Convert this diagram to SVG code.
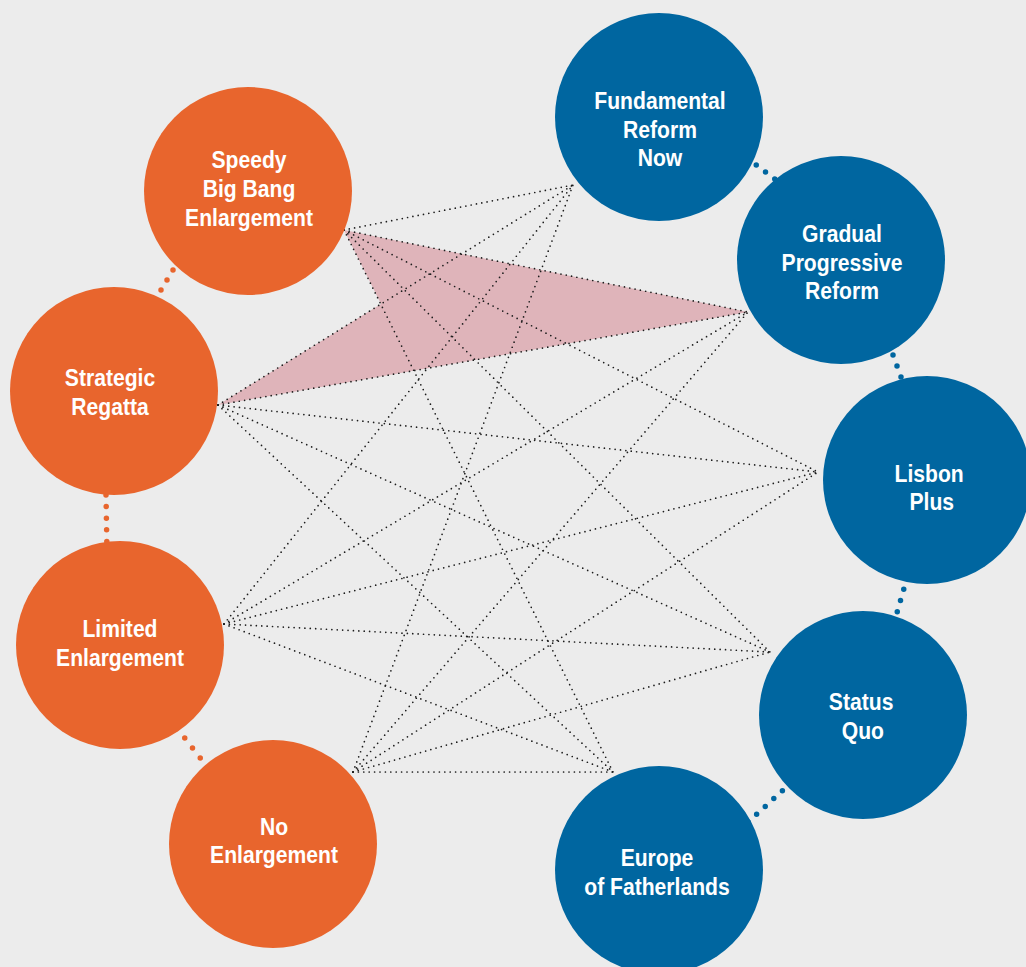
<svg xmlns="http://www.w3.org/2000/svg" width="1026" height="967" viewBox="0 0 1026 967">
<style>
.bg{fill:#ececec}
.or{fill:#e8652d}
.bl{fill:#0066a0}
.lbl{font-family:"Liberation Sans",Arial,sans-serif;font-weight:700;font-size:24px;fill:#ffffff;text-anchor:middle}
.link{stroke:#1c1c1c;stroke-width:1.7;stroke-linecap:round;stroke-dasharray:0 5.4;fill:none}
.odot{stroke:#e8652d;stroke-width:5.5;stroke-linecap:round;fill:none}
.bdot{stroke:#0066a0;stroke-width:5.5;stroke-linecap:round;fill:none}
.pink{fill:#dfb4ba}
</style>
<rect class="bg" x="0" y="0" width="1026" height="967"/>
<g id="connectors">
  <polygon class="pink" points="344,230 748,312 218,405 381,304"/>
  <g id="links">
    <line class="link" x1="344" y1="230" x2="573" y2="185"/>
    <line class="link" x1="344" y1="230" x2="748" y2="312"/>
    <line class="link" x1="344" y1="230" x2="818" y2="472"/>
    <line class="link" x1="344" y1="230" x2="770" y2="652"/>
    <line class="link" x1="344" y1="230" x2="613" y2="772"/>
    <line class="link" x1="218" y1="405" x2="573" y2="185"/>
    <line class="link" x1="218" y1="405" x2="748" y2="312"/>
    <line class="link" x1="218" y1="405" x2="818" y2="472"/>
    <line class="link" x1="218" y1="405" x2="770" y2="652"/>
    <line class="link" x1="218" y1="405" x2="613" y2="772"/>
    <line class="link" x1="224" y1="624" x2="573" y2="185"/>
    <line class="link" x1="224" y1="624" x2="748" y2="312"/>
    <line class="link" x1="224" y1="624" x2="818" y2="472"/>
    <line class="link" x1="224" y1="624" x2="770" y2="652"/>
    <line class="link" x1="224" y1="624" x2="613" y2="772"/>
    <line class="link" x1="353" y1="772" x2="573" y2="185"/>
    <line class="link" x1="353" y1="772" x2="748" y2="312"/>
    <line class="link" x1="353" y1="772" x2="818" y2="472"/>
    <line class="link" x1="353" y1="772" x2="770" y2="652"/>
    <line class="link" x1="353" y1="772" x2="613" y2="772"/>
  </g>
  <g id="adjacent">
    <line class="odot" x1="179" y1="260" x2="155" y2="300" stroke-dasharray="0 11.66"/>
    <line class="odot" x1="106" y1="495" x2="107" y2="553" stroke-dasharray="0 11.6"/>
    <line class="odot" x1="177" y1="728" x2="208" y2="768" stroke-dasharray="0 12.65"/>
    <line class="bdot" x1="747" y1="158" x2="784" y2="186" stroke-dasharray="0 11.6"/>
    <line class="bdot" x1="889" y1="344" x2="905" y2="388" stroke-dasharray="0 11.7"/>
    <line class="bdot" x1="907" y1="578" x2="894" y2="623" stroke-dasharray="0 11.7"/>
    <line class="bdot" x1="791" y1="783" x2="748" y2="822" stroke-dasharray="0 11.6"/>
  </g>
</g>
<g id="speedy">
  <circle class="or" cx="248" cy="191" r="104"/>
  <g transform="translate(29.88,0) scale(0.88,1)">
    <text class="lbl" x="249" y="168">Speedy</text>
    <text class="lbl" x="249" y="197">Big Bang</text>
    <text class="lbl" x="249" y="226">Enlargement</text>
  </g>
</g>
<g id="strategic">
  <circle class="or" cx="114" cy="391" r="104"/>
  <g transform="translate(13.2,0) scale(0.88,1)">
    <text class="lbl" x="110" y="386">Strategic</text>
    <text class="lbl" x="110" y="415">Regatta</text>
  </g>
</g>
<g id="limited">
  <circle class="or" cx="120" cy="645" r="104"/>
  <g transform="translate(14.4,0) scale(0.88,1)">
    <text class="lbl" x="120" y="637">Limited</text>
    <text class="lbl" x="120" y="666">Enlargement</text>
  </g>
</g>
<g id="no">
  <circle class="or" cx="273" cy="844" r="104"/>
  <g transform="translate(32.88,0) scale(0.88,1)">
    <text class="lbl" x="274" y="835">No</text>
    <text class="lbl" x="274" y="863">Enlargement</text>
  </g>
</g>
<g id="fundamental">
  <circle class="bl" cx="659" cy="117" r="104"/>
  <g transform="translate(79.2,0) scale(0.88,1)">
    <text class="lbl" x="660" y="109">Fundamental</text>
    <text class="lbl" x="660" y="138">Reform</text>
    <text class="lbl" x="660" y="166">Now</text>
  </g>
</g>
<g id="gradual">
  <circle class="bl" cx="841" cy="260" r="104"/>
  <g transform="translate(101.04,0) scale(0.88,1)">
    <text class="lbl" x="842" y="242">Gradual</text>
    <text class="lbl" x="842" y="271">Progressive</text>
    <text class="lbl" x="842" y="299">Reform</text>
  </g>
</g>
<g id="lisbon">
  <circle class="bl" cx="927" cy="480" r="104"/>
  <g transform="translate(111.6,0) scale(0.88,1)">
    <text class="lbl" x="929" y="482">Lisbon</text>
    <text class="lbl" x="932" y="510">Plus</text>
  </g>
</g>
<g id="statusquo">
  <circle class="bl" cx="863" cy="715" r="104"/>
  <g transform="translate(103.44,0) scale(0.88,1)">
    <text class="lbl" x="861" y="710">Status</text>
    <text class="lbl" x="863" y="739">Quo</text>
  </g>
</g>
<g id="europe">
  <circle class="bl" cx="659" cy="870" r="104"/>
  <g transform="translate(78.84,0) scale(0.88,1)">
    <text class="lbl" x="657" y="866">Europe</text>
    <text class="lbl" x="657" y="895">of Fatherlands</text>
  </g>
</g>
</svg>
